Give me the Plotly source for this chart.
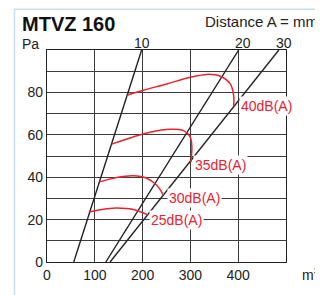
import plotly.graph_objects as go

# distance lines (A = 10, 20, 30 mm): x at 0 Pa and at 100 Pa
dist_labels = ["10", "20", "30"]
dist_x_bottom = [56, 123, 132]
dist_x_top = [198, 401, 485]
dist_label_x = [198, 410, 495]

# noise curves
db40_x = [168.5, 201.5, 250.6, 299.5, 334.6, 362.5, 383.5, 390.4, 390.6]
db40_y = [78.8, 81.0, 84.0, 87.1, 88.5, 87.6, 84.0, 78.7, 73.5]
db35_x = [135.2, 180.5, 215.6, 257.6, 285.5, 299.5, 303.0, 301.0]
db35_y = [55.6, 59.0, 61.2, 62.6, 62.0, 59.0, 54.4, 47.1]
db30_x = [110.0, 145.7, 180.5, 208.6, 229.6, 243.5]
db30_y = [37.8, 39.9, 40.7, 39.5, 36.2, 31.6]
db25_x = [89.6, 124.7, 145.7, 180.5, 211.0]
db25_y = [23.7, 25.1, 25.5, 24.8, 22.2]
db_labels = ["40dB(A)", "35dB(A)", "30dB(A)", "25dB(A)"]
db_label_x = [402, 305, 251, 213.5]
db_label_y = [73.5, 45.6, 30, 20]

x_ticks = [0, 100, 200, 300, 400]
y_ticks = [0, 20, 40, 60, 80]
y_minor = [10, 30, 50, 70, 90]

RED = "#e8232f"
INK = "#222222"
GRID = "#3c3c3c"
FONT = "Liberation Sans, Arial, sans-serif"

# page body adds an 8 px offset; window pixel positions below
OFF = 8
WIN_W, WIN_H = 323, 295
W, H = WIN_W - OFF, WIN_H - OFF
PLOT_L, PLOT_R, PLOT_T, PLOT_B = 47, 286, 50, 269  # window pixels
L = PLOT_L - OFF
T = PLOT_T - OFF
R = W - (PLOT_R - OFF)
B = H - (PLOT_B - OFF)
PW, PH = PLOT_R - PLOT_L, PLOT_B - PLOT_T


def px(x):
    return (x - PLOT_L) / PW


def py(y):
    return (PLOT_B - y) / PH


fig = go.Figure()

for xb, xt in zip(dist_x_bottom, dist_x_top):
    fig.add_trace(go.Scatter(x=[xb, xt], y=[0, 100], mode="lines",
                             line=dict(color=INK, width=1.4),
                             hoverinfo="skip", showlegend=False))

for xs, ys in [(db40_x, db40_y), (db35_x, db35_y), (db30_x, db30_y), (db25_x, db25_y)]:
    fig.add_trace(go.Scatter(x=xs, y=ys, mode="lines",
                             line=dict(color=RED, width=1.5, shape="spline", smoothing=1.0),
                             hoverinfo="skip", showlegend=False))

annotations = []
for lab, x in zip(dist_labels, dist_label_x):
    annotations.append(dict(x=x, y=py(43), xref="x", yref="paper", text=lab,
                            showarrow=False, xanchor="center", yanchor="middle",
                            font=dict(family=FONT, size=14, color=INK)))
for lab, x, y in zip(db_labels, db_label_x, db_label_y):
    annotations.append(dict(x=x, y=y, xref="x", yref="y", text=lab,
                            showarrow=False, xanchor="left", yanchor="middle",
                            bgcolor="white", borderpad=1,
                            font=dict(family=FONT, size=14, color=RED)))

annotations += [
    dict(x=px(20), y=py(23.5), xref="paper", yref="paper", text="<b>MTVZ 160</b>",
         showarrow=False, xanchor="left", yanchor="middle",
         font=dict(family=FONT, size=20, color="#111111")),
    dict(x=px(203), y=py(21), xref="paper", yref="paper", text="Distance A = mm",
         showarrow=False, xanchor="left", yanchor="middle",
         font=dict(family=FONT, size=15, color=INK)),
    dict(x=px(20), y=py(43.5), xref="paper", yref="paper", text="Pa",
         showarrow=False, xanchor="left", yanchor="middle",
         font=dict(family=FONT, size=14, color=INK)),
    dict(x=px(300), y=py(283), xref="paper", yref="paper", text="m<sup>3</sup>/h",
         showarrow=False, xanchor="left", yanchor="bottom", yshift=-9,
         font=dict(family=FONT, size=14, color=INK)),
]

fig.update_layout(
    width=W, height=H,
    margin=dict(l=L, r=R, t=T, b=B, pad=0),
    paper_bgcolor="white", plot_bgcolor="white",
    annotations=annotations,
    shapes=[dict(type="rect", xref="paper", yref="paper",
                 x0=px(14.5), x1=px(400), y0=py(400), y1=py(8),
                 line=dict(color="#c9def0", width=1.5), layer="below")],
)
fig.update_xaxes(range=[0, 500], tickvals=x_ticks, showgrid=True, gridcolor=GRID, gridwidth=1,
                 showline=True, linecolor=INK, linewidth=1.2, mirror=True, zeroline=False,
                 ticks="", tickfont=dict(family=FONT, size=14, color=INK), fixedrange=True)
fig.update_yaxes(range=[0, 100], tickvals=y_ticks, showgrid=True, gridcolor=GRID, gridwidth=1,
                 minor=dict(tickvals=y_minor, showgrid=True, gridcolor=GRID, gridwidth=1, ticks=""),
                 showline=True, linecolor=INK, linewidth=1.2, mirror=True, zeroline=False,
                 ticks="", tickfont=dict(family=FONT, size=14, color=INK), fixedrange=True)

fig.write_html("out.html")
